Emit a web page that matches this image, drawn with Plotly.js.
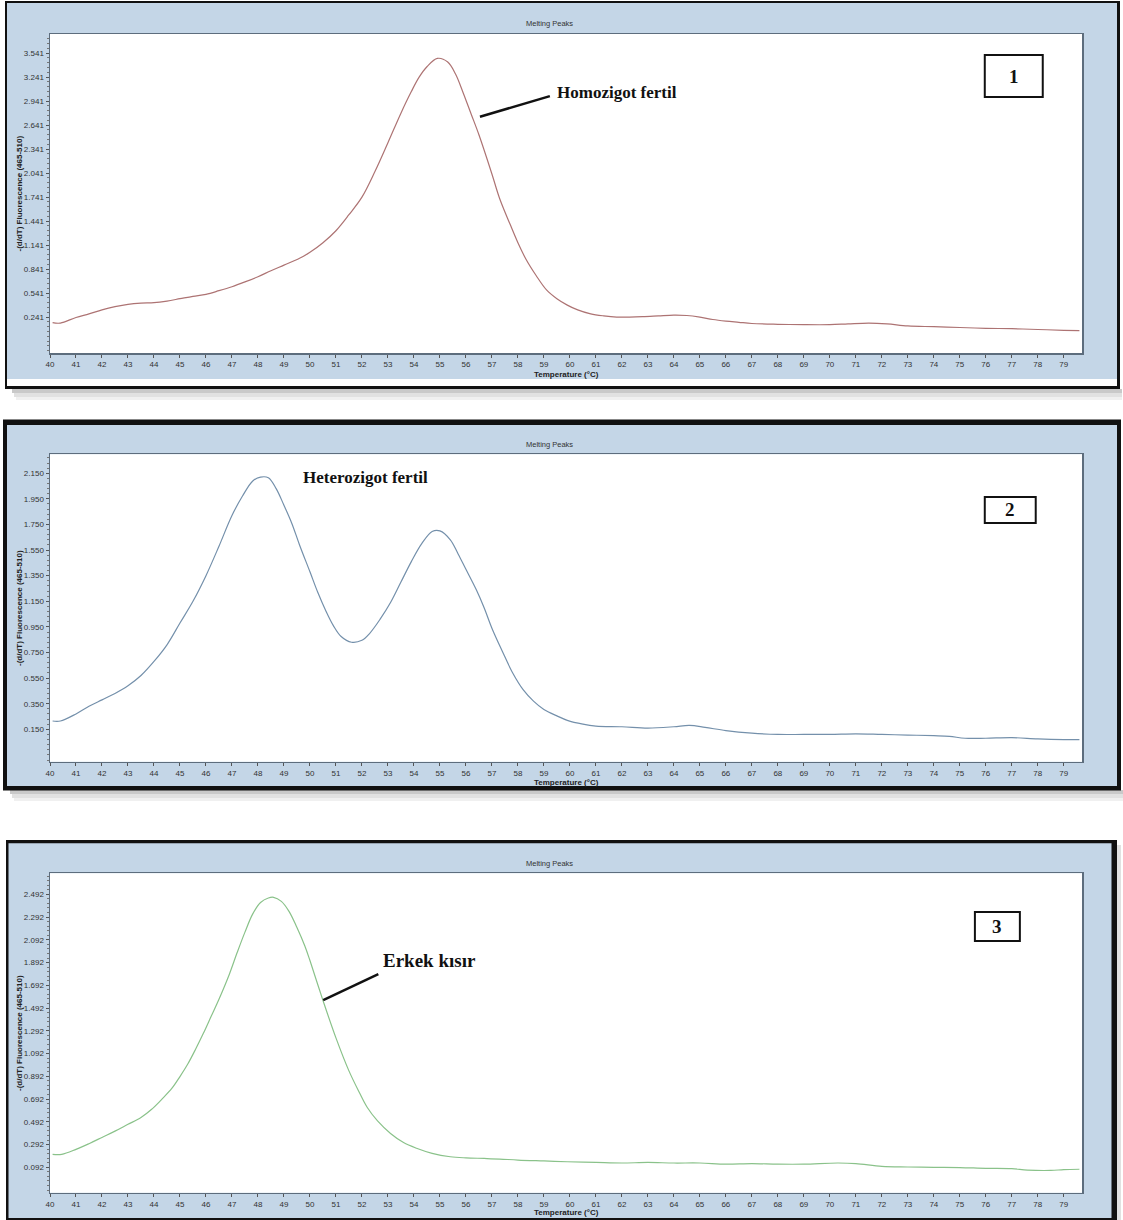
<!DOCTYPE html>
<html>
<head>
<meta charset="utf-8">
<script src="https://cdn.plot.ly/plotly-3.0.1.min.js"></script>
<style>html,body{margin:0;padding:0;background:#fff;}#chart{width:1123px;height:1220px;}</style>
</head>
<body>
<div id="chart"></div>
<script>
// ---------- data ----------
const xTicks = [40,41,42,43,44,45,46,47,48,49,50,51,52,53,54,55,56,57,58,59,60,61,62,63,64,65,66,67,68,69,70,71,72,73,74,75,76,77,78,79];

const yTicks1 = [0.241,0.541,0.841,1.141,1.441,1.741,2.041,2.341,2.641,2.941,3.241,3.541];
const yTicks2 = [0.150,0.350,0.550,0.750,0.950,1.150,1.350,1.550,1.750,1.950,2.150];
const yTicks3 = [0.092,0.292,0.492,0.692,0.892,1.092,1.292,1.492,1.692,1.892,2.092,2.292,2.492];

const temp1 = [40.1,40.4,41.0,41.5,42.0,42.5,43.0,43.5,44.0,44.5,45.0,45.5,46.0,46.5,47.0,47.5,48.0,48.5,49.0,49.6,50.0,50.5,51.0,51.5,52.0,52.5,53.0,53.5,53.9,54.2,54.5,54.9,55.3,55.6,55.9,56.2,56.5,57.0,57.3,57.7,58.0,58.3,58.7,59.1,59.5,59.9,60.3,60.8,61.3,61.8,62.3,62.8,63.4,64.0,64.5,65.0,65.5,66.0,66.5,67.0,68.0,69.0,70.0,70.7,71.5,72.2,73.0,74.0,75.0,76.0,77.0,78.0,79.0,79.6];
const homozigot = [0.17,0.165,0.235,0.28,0.33,0.37,0.40,0.415,0.42,0.44,0.47,0.50,0.525,0.57,0.62,0.68,0.745,0.82,0.89,0.975,1.05,1.17,1.32,1.52,1.74,2.06,2.42,2.79,3.06,3.24,3.37,3.475,3.43,3.28,3.04,2.78,2.52,2.03,1.72,1.40,1.17,0.97,0.76,0.58,0.47,0.39,0.33,0.28,0.255,0.24,0.24,0.245,0.255,0.265,0.26,0.24,0.21,0.19,0.175,0.16,0.15,0.145,0.145,0.155,0.165,0.155,0.13,0.12,0.11,0.10,0.095,0.085,0.075,0.07];

const temp2 = [40.1,40.4,41.0,41.5,42.0,42.5,43.0,43.5,44.0,44.5,45.0,45.5,46.0,46.5,47.0,47.4,47.8,48.1,48.4,48.7,49.0,49.3,49.6,50.0,50.3,50.6,50.9,51.2,51.6,52.0,52.3,52.7,53.1,53.5,53.9,54.3,54.7,55.0,55.4,55.7,56.0,56.4,56.7,57.0,57.4,57.8,58.2,58.6,59.0,59.5,59.9,60.5,61.0,62.0,63.0,64.0,64.6,65.2,66.0,67.0,68.0,69.0,70.0,71.0,72.0,73.0,74.0,74.6,75.2,76.0,77.0,78.0,79.0,79.6];
const heterozigot = [0.215,0.215,0.27,0.33,0.38,0.43,0.49,0.57,0.68,0.81,0.98,1.15,1.35,1.58,1.82,1.97,2.09,2.12,2.115,2.03,1.90,1.76,1.59,1.38,1.22,1.08,0.96,0.875,0.83,0.845,0.90,1.01,1.14,1.30,1.46,1.60,1.695,1.70,1.63,1.52,1.40,1.24,1.10,0.94,0.76,0.59,0.46,0.37,0.305,0.255,0.22,0.19,0.175,0.17,0.16,0.17,0.18,0.165,0.14,0.12,0.11,0.11,0.11,0.115,0.11,0.105,0.10,0.095,0.08,0.08,0.085,0.075,0.07,0.07];

const temp3 = [40.1,40.45,41.0,41.5,42.0,42.5,43.0,43.5,43.9,44.3,44.7,45.0,45.3,45.6,45.9,46.2,46.5,46.9,47.2,47.5,47.8,48.1,48.4,48.6,48.9,49.2,49.5,49.8,50.0,50.5,51.0,51.5,51.9,52.2,52.6,53.1,53.6,54.1,54.7,55.4,56.0,56.7,57.3,58.0,59.0,59.9,61.0,62.0,63.0,64.0,65.0,66.0,67.0,68.0,69.0,70.3,71.0,72.0,73.0,74.0,75.0,76.0,77.0,77.6,78.5,79.0,79.6];
const erkekKisir = [0.206,0.206,0.25,0.30,0.355,0.41,0.47,0.53,0.60,0.69,0.79,0.89,1.0,1.13,1.27,1.42,1.57,1.79,1.98,2.16,2.32,2.42,2.46,2.466,2.43,2.34,2.20,2.04,1.91,1.56,1.23,0.94,0.75,0.62,0.50,0.39,0.31,0.26,0.215,0.185,0.175,0.17,0.165,0.156,0.148,0.141,0.135,0.13,0.135,0.13,0.13,0.12,0.125,0.12,0.12,0.13,0.125,0.10,0.095,0.092,0.09,0.083,0.08,0.068,0.065,0.072,0.075];

const panelTitle = "Melting Peaks";
const xTitle = "Temperature (°C)";
const yTitle = "-(d/dT) Fluorescence (465-510)";
const labels = ["Homozigot fertil", "Heterozigot fertil", "Erkek kısır"];
const panelNumbers = ["1", "2", "3"];

// ---------- layout helpers ----------
const W = 1123, H = 1220;
const fx = x => x / W;
const fy = y => 1 - y / H;

const BLUE = '#c4d6e7';
const tickFont = {family: 'Liberation Sans, Arial, sans-serif', size: 8, color: '#333'};

function xAxis(anchor) {
  return {
    domain: [fx(50), fx(1082)], range: [40, 79.7], anchor: anchor,
    tickmode: 'array', tickvals: xTicks, ticktext: xTicks.map(String),
    ticks: 'outside', ticklen: 3, tickcolor: '#555', tickwidth: 1,
    showline: true, mirror: true, linecolor: '#5d6d7d', linewidth: 1.5,
    showgrid: false, zeroline: false, tickfont: tickFont, fixedrange: true
  };
}
function yAxis(anchor, top, bottom, range, vals, minorDtick) {
  return {
    domain: [fy(bottom), fy(top)], range: range, anchor: anchor,
    tickmode: 'array', tickvals: vals, ticktext: vals.map(v => v.toFixed(3)),
    ticks: 'outside', ticklen: 3, tickcolor: '#555', tickwidth: 1,
    minor: {ticks: 'outside', ticklen: 2, tickcolor: '#777', tick0: vals[0], dtick: minorDtick, showgrid: false},
    showline: true, mirror: true, linecolor: '#5d6d7d', linewidth: 1.5,
    showgrid: false, zeroline: false, tickfont: tickFont, fixedrange: true
  };
}

const panels = [
  {top: 34, bottom: 353},
  {top: 454.3, bottom: 761.7},
  {top: 873.3, bottom: 1192.7}
];

const traces = [
  {x: temp1, y: homozigot, xaxis: 'x', yaxis: 'y', mode: 'lines', line: {color: '#ad7373', width: 1.2, shape: 'spline', smoothing: 1}, hoverinfo: 'skip'},
  {x: temp2, y: heterozigot, xaxis: 'x2', yaxis: 'y2', mode: 'lines', line: {color: '#7490ab', width: 1.2, shape: 'spline', smoothing: 1}, hoverinfo: 'skip'},
  {x: temp3, y: erkekKisir, xaxis: 'x3', yaxis: 'y3', mode: 'lines', line: {color: '#8ac28a', width: 1.2, shape: 'spline', smoothing: 1}, hoverinfo: 'skip'}
];

function prect(x0, y0, x1, y1, color, opacity) {
  return {type: 'rect', xref: 'paper', yref: 'paper', x0: fx(x0), x1: fx(x1), y0: fy(y1), y1: fy(y0),
          fillcolor: color, line: {width: 0}, layer: 'below', opacity: opacity === undefined ? 1 : opacity};
}

const shapes = [
  // shadows
  prect(12, 389, 1122, 393, '#888', 0.45), prect(14, 393, 1122, 397, '#aaa', 0.35), prect(16, 397, 1122, 400, '#ccc', 0.3),
  prect(10, 790, 1123, 794, '#888', 0.45), prect(12, 794, 1123, 798, '#aaa', 0.35), prect(14, 798, 1123, 801, '#ccc', 0.3),
  prect(1117, 845, 1121, 1220, '#aaa', 0.35),
  // panel 1 frame
  prect(5, 1, 1120, 389, '#111'), prect(7, 3, 1117, 386, '#ffffff'), prect(7, 3, 1117, 379, BLUE),
  // panel 2 frame
  prect(3, 419.5, 1121, 790.5, '#111'), prect(7, 425, 1117, 786, BLUE),
  // panel 3 frame
  prect(6, 840, 1117, 1222, '#111'), prect(8.5, 843.3, 1111.5, 1218, BLUE),
  // white plot areas
  prect(50, panels[0].top, 1082, panels[0].bottom, '#ffffff'),
  prect(50, panels[1].top, 1082, panels[1].bottom, '#ffffff'),
  prect(50, panels[2].top, 1082, panels[2].bottom, '#ffffff'),
  // pointer lines
  {type: 'line', xref: 'x', yref: 'y', x0: 56.54, y0: 2.745, x1: 59.23, y1: 3.003, line: {color: '#111', width: 2.5}},
  {type: 'line', xref: 'x3', yref: 'y3', x0: 50.51, y0: 1.563, x1: 52.63, y1: 1.791, line: {color: '#111', width: 2.5}},
  // number boxes
  {type: 'rect', xref: 'x', yref: 'y', x0: 75.96, x1: 78.19, y0: 2.991, y1: 3.516, line: {color: '#111', width: 2}, fillcolor: 'rgba(0,0,0,0)'},
  {type: 'rect', xref: 'x2', yref: 'y2', x0: 75.96, x1: 77.92, y0: 1.762, y1: 1.965, line: {color: '#111', width: 2}, fillcolor: 'rgba(0,0,0,0)'},
  {type: 'rect', xref: 'x3', yref: 'y3', x0: 75.58, x1: 77.31, y0: 2.081, y1: 2.336, line: {color: '#111', width: 2}, fillcolor: 'rgba(0,0,0,0)'}
];

const serifBold = {family: 'Liberation Serif, Times New Roman, serif', size: 17, color: '#111'};
const titleFont = {family: 'Liberation Sans, Arial, sans-serif', size: 7.5, color: '#333'};
const axTitleFont = {family: 'Liberation Sans, Arial, sans-serif', size: 8, color: '#222'};

const annotations = [];
const titleY = [24, 444, 863];
const xTitleY = [374.5, 782, 1212];
panels.forEach((p, i) => {
  annotations.push({xref: 'paper', yref: 'paper', x: fx(549), y: fy(titleY[i]), text: panelTitle, showarrow: false, font: titleFont, xanchor: 'center', yanchor: 'middle'});
  annotations.push({xref: 'paper', yref: 'paper', x: fx(566), y: fy(xTitleY[i]), text: '<b>' + xTitle + '</b>', showarrow: false, font: axTitleFont, xanchor: 'center', yanchor: 'middle'});
  annotations.push({xref: 'paper', yref: 'paper', x: fx(19), y: fy((p.top + p.bottom) / 2), text: '<b>' + yTitle + '</b>', showarrow: false, font: axTitleFont, textangle: -90, xanchor: 'center', yanchor: 'middle'});
});
// curve labels
annotations.push({xref: 'x', yref: 'y', x: 59.42, y: 3.053, text: '<b>' + labels[0] + '</b>', showarrow: false, font: serifBold, xanchor: 'left', yanchor: 'middle'});
annotations.push({xref: 'x2', yref: 'y2', x: 52.12, y: 2.113, text: '<b>' + labels[1] + '</b>', showarrow: false, font: serifBold, xanchor: 'center', yanchor: 'middle'});
annotations.push({xref: 'x3', yref: 'y3', x: 52.75, y: 1.914, text: '<b>' + labels[2] + '</b>', showarrow: false, font: Object.assign({}, serifBold, {size: 19}), xanchor: 'left', yanchor: 'middle'});
// panel numbers
annotations.push({xref: 'x', yref: 'y', x: 77.075, y: 3.2535, text: '<b>' + panelNumbers[0] + '</b>', showarrow: false, font: Object.assign({}, serifBold, {size: 19}), xanchor: 'center', yanchor: 'middle'});
annotations.push({xref: 'x2', yref: 'y2', x: 76.94, y: 1.8635, text: '<b>' + panelNumbers[1] + '</b>', showarrow: false, font: Object.assign({}, serifBold, {size: 19}), xanchor: 'center', yanchor: 'middle'});
annotations.push({xref: 'x3', yref: 'y3', x: 76.445, y: 2.2085, text: '<b>' + panelNumbers[2] + '</b>', showarrow: false, font: Object.assign({}, serifBold, {size: 19}), xanchor: 'center', yanchor: 'middle'});

const layout = {
  width: W, height: H, autosize: false,
  margin: {l: 0, r: 0, t: 0, b: 0, pad: 0},
  paper_bgcolor: '#ffffff', plot_bgcolor: '#ffffff',
  showlegend: false,
  xaxis: xAxis('y'), xaxis2: xAxis('y2'), xaxis3: xAxis('y3'),
  yaxis: yAxis('x', panels[0].top, panels[0].bottom, [-0.209, 3.78], yTicks1, 0.06),
  yaxis2: yAxis('x2', panels[1].top, panels[1].bottom, [-0.103, 2.298], yTicks2, 0.04),
  yaxis3: yAxis('x3', panels[2].top, panels[2].bottom, [-0.131, 2.677], yTicks3, 0.04),
  shapes: shapes,
  annotations: annotations
};

Plotly.newPlot('chart', traces, layout, {displayModeBar: false, staticPlot: true});
</script>
</body>
</html>
